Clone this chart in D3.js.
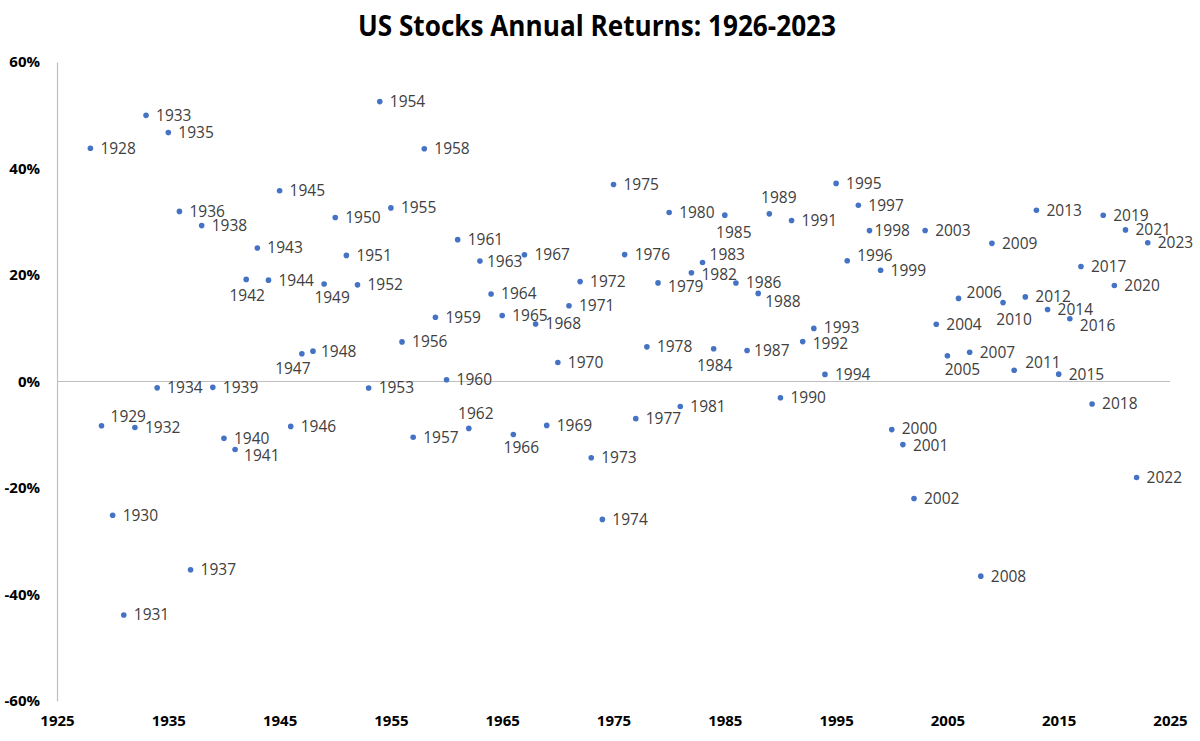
<!DOCTYPE html>
<html>
<head>
<meta charset="utf-8">
<script src="https://cdn.jsdelivr.net/npm/d3@7"></script>
<style>
  html, body { margin: 0; padding: 0; background: #fff; }
  svg { display: block; }
</style>
</head>
<body>
<svg id="chart" width="1200" height="741"></svg>
<script>
// ---- Data ----
const years = [1928,1929,1930,1931,1932,1933,1934,1935,1936,1937,1938,1939,1940,1941,1942,1943,1944,1945,1946,1947,1948,1949,1950,1951,1952,1953,1954,1955,1956,1957,1958,1959,1960,1961,1962,1963,1964,1965,1966,1967,1968,1969,1970,1971,1972,1973,1974,1975,1976,1977,1978,1979,1980,1981,1982,1983,1984,1985,1986,1987,1988,1989,1990,1991,1992,1993,1994,1995,1996,1997,1998,1999,2000,2001,2002,2003,2004,2005,2006,2007,2008,2009,2010,2011,2012,2013,2014,2015,2016,2017,2018,2019,2020,2021,2022,2023];
const returns = [43.81,-8.30,-25.12,-43.84,-8.64,49.98,-1.19,46.74,31.94,-35.34,29.28,-1.10,-10.67,-12.77,19.17,25.06,19.03,35.82,-8.43,5.20,5.70,18.30,30.81,23.68,18.15,-1.21,52.56,32.60,7.44,-10.46,43.72,12.06,0.34,26.64,-8.81,22.61,16.42,12.40,-9.97,23.80,10.81,-8.24,3.56,14.22,18.76,-14.31,-25.90,37.00,23.83,-6.98,6.51,18.52,31.74,-4.70,20.42,22.34,6.15,31.24,18.49,5.81,16.54,31.48,-3.06,30.23,7.49,9.97,1.33,37.20,22.68,33.10,28.34,20.89,-9.03,-11.85,-21.97,28.36,10.74,4.83,15.61,5.48,-36.55,25.94,14.82,2.10,15.89,32.15,13.52,1.38,11.77,21.61,-4.23,31.21,18.02,28.47,-18.04,26.06];
const xTicks = [1925,1935,1945,1955,1965,1975,1985,1995,2005,2015,2025];
const yTicks = [-60,-40,-20,0,20,40,60];
const title = "US Stocks Annual Returns: 1926-2023";

// ---- Label placement (layout only): [anchor, dx, dy] ----
const labelPlacement = {
  1929: ["start", 9, -9],
  1941: ["start", 9, 6],
  1942: ["middle", 1, 16],
  1947: ["middle", -9, 15],
  1948: ["start", 8, 0],
  1949: ["middle", 8, 14],
  1962: ["middle", 7, -15],
  1963: ["start", 7, 0],
  1966: ["middle", 8, 13],
  1979: ["start", 10, 4],
  1982: ["start", 10, 1.5],
  1983: ["start", 7, -8],
  1984: ["middle", 1, 17],
  1985: ["middle", 9, 17],
  1987: ["start", 7, 0],
  1988: ["start", 7, 8],
  1989: ["middle", 9.5, -16],
  1992: ["start", 10, 1.5],
  1993: ["start", 10, -1],
  1996: ["start", 10, -5],
  1998: ["start", 5, 0],
  2000: ["start", 10, -1],
  2001: ["start", 10, 1],
  2005: ["middle", 15, 13.5],
  2006: ["start", 8, -6],
  2010: ["middle", 11, 17],
  2011: ["start", 11, -8],
  2016: ["start", 10, 7]
};

const data = years.map((yr, i) => ({ year: yr, value: returns[i] }));

const svg = d3.select("#chart");
const mLeft = 57, mRight = 1170, mTop = 62, mBottom = 701;

const x = d3.scaleLinear().domain([1925, 2025]).range([mLeft, mRight]);
const y = d3.scaleLinear().domain([-60, 60]).range([mBottom, mTop]);

// Title
svg.append("text")
  .attr("x", 597).attr("y", 36)
  .attr("text-anchor", "middle")
  .attr("font-family", "'Open Sans', sans-serif")
  .attr("font-weight", "bold")
  .attr("font-size", 28)
  .attr("fill", "#000")
  .attr("textLength", 478)
  .attr("lengthAdjust", "spacingAndGlyphs")
  .text(title);

// Y axis
const yAxis = d3.axisLeft(y).tickValues(yTicks).tickSize(0).tickPadding(17)
  .tickFormat(d => d + "%");
const gy = svg.append("g").attr("transform", `translate(${mLeft},0)`).call(yAxis);
gy.select(".domain").attr("stroke", "#bfbfbf").attr("stroke-width", 1.2);
gy.selectAll("text")
  .attr("font-family", "'Open Sans', sans-serif")
  .attr("font-weight", "bold")
  .attr("font-size", 15)
  .attr("fill", "#000");

// Zero line (horizontal axis at 0)
svg.append("line")
  .attr("x1", x(1925)).attr("x2", x(2025))
  .attr("y1", y(0)).attr("y2", y(0))
  .attr("stroke", "#bfbfbf").attr("stroke-width", 1.2);

// X axis labels at bottom
const xAxis = d3.axisBottom(x).tickValues(xTicks).tickSize(0).tickPadding(12)
  .tickFormat(d3.format("d"));
const gx = svg.append("g").attr("transform", `translate(0,${mBottom + 2})`).call(xAxis);
gx.select(".domain").remove();
gx.selectAll("text")
  .attr("font-family", "'Open Sans', sans-serif")
  .attr("font-weight", "bold")
  .attr("font-size", 15)
  .attr("fill", "#000");

// Points
svg.append("g").selectAll("circle")
  .data(data).join("circle")
  .attr("cx", d => x(d.year))
  .attr("cy", d => y(d.value))
  .attr("r", 2.8)
  .attr("fill", "#4472C4");

// Labels
svg.append("g").selectAll("text")
  .data(data).join("text")
  .attr("font-family", "'Open Sans', sans-serif")
  .attr("font-size", 15.5)
  .attr("fill", "#404040")
  .each(function(d) {
    const p = labelPlacement[d.year] || ["start", 10, 0];
    d3.select(this)
      .attr("text-anchor", p[0])
      .attr("x", x(d.year) + p[1])
      .attr("y", y(d.value) + p[2])
      .attr("dy", "0.35em");
  })
  .text(d => d.year);
</script>
</body>
</html>
